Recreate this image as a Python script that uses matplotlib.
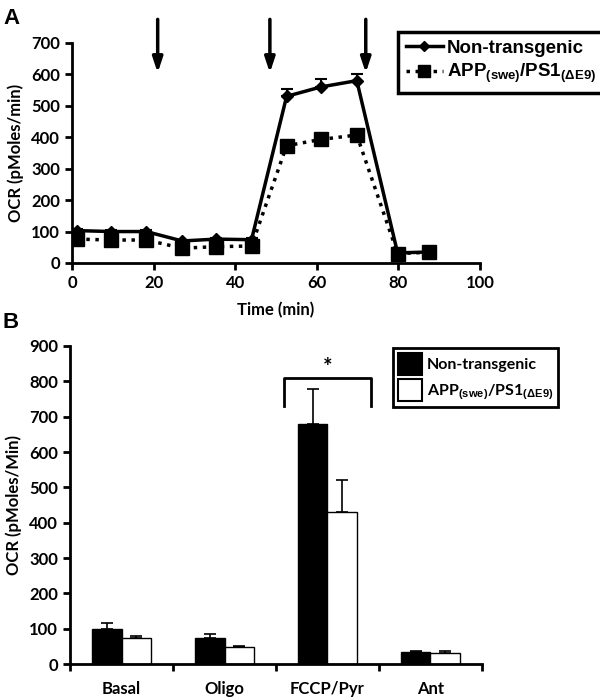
import matplotlib
matplotlib.use("Agg")
import matplotlib.pyplot as plt
from matplotlib.patches import Patch
from matplotlib.lines import Line2D

plt.rcParams["font.family"] = ["Lato", "DejaVu Sans"]
plt.rcParams["font.weight"] = "bold"
plt.rcParams["mathtext.fontset"] = "custom"
plt.rcParams["mathtext.rm"] = "Liberation Sans:bold"
plt.rcParams["mathtext.bf"] = "Liberation Sans:bold"
plt.rcParams["mathtext.it"] = "Liberation Sans:bold"

# Panel A: time course
time_min = [1.3, 9.6, 18.2, 27.0, 35.4, 44.0, 52.6, 61.0, 69.8, 79.8, 87.5]
ocr_ntg = [103, 100, 100, 70, 76, 74, 530, 560, 580, 32, 35]
err_ntg = [5, 5, 5, 4, 4, 4, 22, 24, 20, 4, 4]
ocr_app = [76, 73, 73, 47, 52, 54, 373, 393, 407, 30, 34]
err_app = [4, 4, 4, 3, 3, 3, 8, 8, 8, 3, 3]
injection_times = [21, 48.5, 72]

# Panel B: summary bars
conditions = ["Basal", "Oligo", "FCCP/Pyr", "Ant"]
bar_ntg = [99, 73, 680, 33]
bar_ntg_err = [16, 11, 99, 3]
bar_app = [75, 47, 431, 31]
bar_app_err = [3, 3, 90, 5]

label_ntg = "Non-transgenic"
label_app = r"APP$_{(swe)}$/PS1$_{(\Delta E9)}$"

fig = plt.figure(figsize=(6, 6.97), dpi=100)

# ---------------- Panel A ----------------
ax1 = fig.add_axes([0.12, 0.6227, 0.68, 0.3157])
ax1.errorbar(time_min, ocr_ntg, yerr=[[0] * len(err_ntg), err_ntg], color="black",
             lw=2.5, marker="D", ms=6, capsize=4, elinewidth=1.5, capthick=1.5,
             zorder=3)
ax1.errorbar(time_min, ocr_app, yerr=[[0] * len(err_app), err_app], color="black",
             lw=2.5, ls=(0, (1, 1.6)), marker="s", ms=10, capsize=4,
             elinewidth=1.5, capthick=1.5, zorder=2)
ax1.set_xlim(0, 100)
ax1.set_ylim(0, 700)
ax1.set_xticks(range(0, 101, 20))
ax1.set_yticks(range(0, 701, 100))
ax1.spines["top"].set_visible(False)
ax1.spines["right"].set_visible(False)
for s in ("left", "bottom"):
    ax1.spines[s].set_linewidth(2)
ax1.tick_params(direction="out", width=2, length=5, labelsize=12)
ax1.set_xlabel("Time (min)", fontsize=12, fontweight="bold", labelpad=8)
ax1.set_ylabel("OCR (pMoles/min)", fontsize=12, fontweight="bold", labelpad=5)

for t in injection_times:
    ax1.annotate("", xy=(t, 605), xytext=(t, 775), xycoords="data",
                 annotation_clip=False,
                 arrowprops=dict(arrowstyle="-|>,head_length=0.9,head_width=0.3",
                                 color="black", lw=2.5, shrinkA=0, shrinkB=0))

handles_a = [
    Line2D([0], [0], color="black", lw=2.5, marker="D", ms=5),
    Line2D([0], [0], color="black", lw=2.5, ls=(0, (1, 1.6)), marker="s", ms=8),
]
leg1 = fig.legend(handles_a, [label_ntg, label_app], loc="upper left",
                  bbox_to_anchor=(398 / 600, 1 - 32 / 697), borderaxespad=0,
                  prop={"family": "Liberation Sans", "weight": "bold", "size": 13.5},
                  handlelength=2.0, handletextpad=0.2, labelspacing=0.3,
                  borderpad=0.4, fancybox=False, edgecolor="black", framealpha=1)
leg1.get_frame().set_linewidth(2.5)

fig.text(0.005, 1 - 18 / 697, "A", fontsize=16, fontweight="bold",
         family="Liberation Sans", va="center")

# ---------------- Panel B ----------------
ax2 = fig.add_axes([0.1167, 0.0473, 0.6866, 0.4563])
xpos = list(range(len(conditions)))
w = 0.285
ax2.bar([x - w / 2 for x in xpos], bar_ntg, width=w, color="black",
        edgecolor="black", lw=1,
        yerr=[[0] * 4, bar_ntg_err], capsize=4,
        error_kw=dict(elinewidth=1.2, capthick=1.2, ecolor="black"))
ax2.bar([x + w / 2 for x in xpos], bar_app, width=w, color="white",
        edgecolor="black", lw=1,
        yerr=[[0] * 4, bar_app_err], capsize=4,
        error_kw=dict(elinewidth=1.2, capthick=1.2, ecolor="black"))
ax2.set_xlim(-0.5, 3.5)
ax2.set_ylim(0, 900)
ax2.set_yticks(range(0, 901, 100))
ax2.set_xticks([-0.5, 0.5, 1.5, 2.5, 3.5])
ax2.set_xticklabels([])
ax2.set_xticks(xpos, minor=True)
ax2.set_xticklabels(conditions, minor=True)
ax2.tick_params(axis="x", which="minor", length=0, pad=12, labelsize=12)
ax2.tick_params(axis="x", which="major", direction="out", width=2, length=5)
ax2.tick_params(axis="y", direction="out", width=2, length=5, labelsize=12)
ax2.spines["top"].set_visible(False)
ax2.spines["right"].set_visible(False)
for s in ("left", "bottom"):
    ax2.spines[s].set_linewidth(2)
ax2.set_ylabel("OCR (pMoles/Min)", fontsize=12, fontweight="bold", labelpad=5)

# significance bracket
bx0, bx1 = 1.58, 2.42
ax2.plot([bx0, bx0, bx1, bx1], [730, 810, 810, 730], color="black", lw=2)
ax2.text((bx0 + bx1) / 2, 838, "*", ha="center", va="center", fontsize=16,
         fontweight="bold")

handles_b = [Patch(facecolor="black", edgecolor="black", lw=1.5),
             Patch(facecolor="white", edgecolor="black", lw=1.5)]
leg2 = fig.legend(handles_b, [label_ntg, label_app], loc="upper left",
                  bbox_to_anchor=(393 / 600, 1 - 348 / 697), borderaxespad=0,
                  prop={"family": "Lato", "weight": "bold", "size": 11.5},
                  handlelength=1.5, handleheight=1.8, handletextpad=0.3,
                  labelspacing=0.2, borderpad=0.3, fancybox=False,
                  edgecolor="black", framealpha=1)
leg2.get_frame().set_linewidth(2)

fig.text(0.005, 1 - 323 / 697, "B", fontsize=16, fontweight="bold",
         family="Liberation Sans", va="center")

fig.savefig("out.png", dpi=100)
